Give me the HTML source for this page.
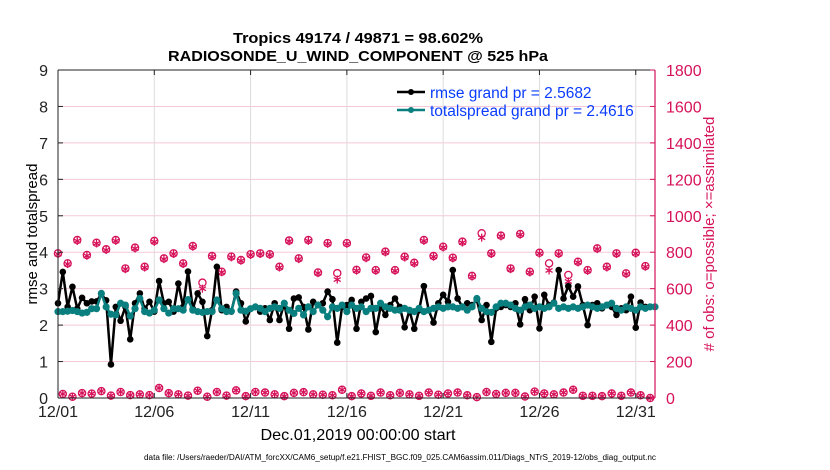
<!DOCTYPE html>
<html><head><meta charset="utf-8"><style>
html,body{margin:0;padding:0;background:#fff;}
svg{display:block;font-family:"Liberation Sans",Arial,sans-serif;}
</style></head><body>
<svg id="chart" width="830" height="470" viewBox="0 0 830 470" xmlns="http://www.w3.org/2000/svg">
<rect width="830" height="470" fill="#fff"/>
<text x="358" y="43" font-size="15" font-weight="bold" text-anchor="middle" textLength="250" lengthAdjust="spacingAndGlyphs">Tropics 49174 / 49871 = 98.602%</text>
<text x="358" y="61" font-size="15" font-weight="bold" text-anchor="middle" textLength="380" lengthAdjust="spacingAndGlyphs">RADIOSONDE_U_WIND_COMPONENT @ 525 hPa</text>
<g id="grid"></g>
<g id="obs"></g>
<g id="series"></g>
<g id="axes"></g>
<text transform="translate(37,234) rotate(-90)" font-size="15" text-anchor="middle">rmse and totalspread</text>
<text transform="translate(714,234) rotate(-90)" font-size="15" text-anchor="middle" fill="#d6125a"># of obs: o=possible; ×=assimilated</text>
<text x="358" y="440" font-size="16" text-anchor="middle" textLength="195" lengthAdjust="spacingAndGlyphs">Dec.01,2019 00:00:00 start</text>
<text x="400" y="460" font-size="8" text-anchor="middle" textLength="512" lengthAdjust="spacingAndGlyphs">data file: /Users/raeder/DAI/ATM_forcXX/CAM6_setup/f.e21.FHIST_BGC.f09_025.CAM6assim.011/Diags_NTrS_2019-12/obs_diag_output.nc</text>
<g>
<line x1="397" y1="92" x2="425" y2="92" stroke="#000" stroke-width="2.5"/>
<circle cx="411" cy="92" r="3" fill="#000"/>
<text x="430" y="98" font-size="15.5" fill="#0a3cff">rmse grand pr = 2.5682</text>
<line x1="397" y1="110" x2="425" y2="110" stroke="#0a7f7f" stroke-width="2.5"/>
<circle cx="411" cy="110" r="3" fill="#0a7f7f"/>
<text x="430" y="116" font-size="15.5" fill="#0a3cff">totalspread grand pr = 2.4616</text>
</g>
</svg>
<script>
const xTickLabels = ["12/01","12/06","12/11","12/16","12/21","12/26","12/31"];
const xTickDays = [0,5,10,15,20,25,30];
const yTicks = [0,1,2,3,4,5,6,7,8,9];
const rTicks = [0,200,400,600,800,1000,1200,1400,1600,1800];
const rmse = [2.6,3.46,2.5,3.05,2.45,2.75,2.6,2.65,2.65,2.85,2.68,0.92,2.5,2.12,2.5,1.61,2.6,2.87,2.45,2.64,2.37,3.21,2.6,2.64,2.37,3.14,2.5,3.47,2.45,2.87,2.64,1.7,2.41,3.6,2.41,2.5,2.37,2.92,2.6,2.1,2.45,
2.5,2.37,2.46,2.14,2.6,2.14,2.6,1.9,2.73,2.76,2.5,1.88,2.64,2.55,2.6,2.92,2.71,1.52,2.5,2.55,2.69,1.9,2.64,2.73,2.8,1.81,2.5,2.28,2.55,2.73,2.5,1.94,2.41,1.9,2.41,3.07,2.41,2.07,2.6,2.83,2.64,
3.51,2.73,2.5,2.6,2.55,2.69,2.14,2.55,1.54,2.46,2.5,2.55,2.5,2.6,2.02,2.71,2.41,2.78,1.91,2.83,2.55,2.62,3.51,2.73,3.07,2.78,3.06,2.55,2.0,2.55,2.6,2.46,2.55,2.5,2.28,2.46,2.41,2.78,1.93,2.62,2.5];
const spread = [2.37,2.37,2.38,2.40,2.37,2.33,2.35,2.45,2.45,2.87,2.50,2.30,2.28,2.60,2.55,2.25,2.45,2.73,2.37,2.33,2.41,2.69,2.45,2.33,2.45,2.45,2.41,2.70,2.41,2.37,2.35,2.37,2.37,2.69,2.45,2.37,2.38,2.87,2.41,2.38,2.45,
2.5,2.46,2.37,2.46,2.5,2.46,2.6,2.41,2.32,2.46,2.28,2.5,2.37,2.55,2.41,2.23,2.5,2.46,2.55,2.37,2.55,2.46,2.5,2.37,2.46,2.46,2.6,2.5,2.46,2.41,2.41,2.46,2.41,2.37,2.46,2.37,2.41,2.46,2.5,2.46,2.5,
2.5,2.46,2.5,2.41,2.5,2.73,2.46,2.37,2.35,2.5,2.6,2.6,2.55,2.46,2.41,2.5,2.55,2.46,2.5,2.46,2.5,2.6,2.46,2.5,2.46,2.5,2.46,2.5,2.55,2.5,2.46,2.5,2.55,2.6,2.46,2.41,2.5,2.46,2.41,2.5,2.46,2.5,2.5];
const possibleHigh = [794,739,867,785,852,816,867,711,825,720,862,766,794,739,834,633,779,693,776,757,789,794,789,720,864,766,867,689,850,685,850,703,
771,702,803,702,775,742,867,779,830,770,858,670,904,794,891,711,900,693,797,739,794,675,748,702,821,720,794,684,797,724];
const assimHigh = [790,735,862,780,848,812,862,707,820,716,857,762,790,735,830,600,775,690,772,753,785,790,785,716,860,762,862,685,846,650,846,699,
767,698,799,698,771,738,862,775,826,766,853,666,880,790,887,707,896,689,793,700,790,640,744,698,817,716,790,680,793,720];
const possibleLow = [22,7,27,24,38,13,33,16,20,16,55,27,20,13,40,7,33,13,42,10,33,30,20,10,28,32,20,18,15,45,10,25,
12,30,15,28,20,12,30,18,25,30,15,5,33,22,28,28,8,35,25,20,30,45,12,12,10,25,12,30,15,0];
const assimLow = possibleLow.slice();

const NS="http://www.w3.org/2000/svg";
const X0=58,X1=655,Y0=398,Y1=70;
const xs=d=>X0+(d/31)*(X1-X0);
const ys=v=>Y0-(v/9)*(Y0-Y1);
const yr=v=>Y0-(v/1800)*(Y0-Y1);
function mk(tag,attrs,parent){const e=document.createElementNS(NS,tag);for(const k in attrs)e.setAttribute(k,attrs[k]);parent.appendChild(e);return e;}
const grid=document.getElementById('grid'),axes=document.getElementById('axes'),series=document.getElementById('series'),obs=document.getElementById('obs');

rTicks.forEach(v=>{if(v===0||v===1800)return;const l=mk('line',{x1:X0,x2:X1,y1:yr(v),y2:yr(v),stroke:'#f5c8d8','stroke-width':1},grid);

});
xTickDays.forEach(d=>{if(d===0)return;const l=mk('line',{x1:xs(d),x2:xs(d),y1:Y1,y2:Y0,stroke:'#dcdcdc','stroke-width':1},grid);

});

// axes frame
let a=mk('line',{x1:X0,x2:X1,y1:Y1,y2:Y1,stroke:'#222','stroke-width':1},axes);


a=mk('line',{x1:X0,x2:X1,y1:Y0,y2:Y0,stroke:'#222','stroke-width':1},axes);


a=mk('line',{x1:X0,x2:X0,y1:Y1,y2:Y0,stroke:'#222','stroke-width':1},axes);


a=mk('line',{x1:X1,x2:X1,y1:Y1,y2:Y0,stroke:'#d6125a','stroke-width':1.2},axes);



xTickDays.forEach((d,i)=>{
 let t=mk('line',{x1:xs(d),x2:xs(d),y1:Y0,y2:Y0-5,stroke:'#222'},axes);
 
 
 t=mk('line',{x1:xs(d),x2:xs(d),y1:Y1,y2:Y1+5,stroke:'#222'},axes);
 
 
 const tx=mk('text',{x:xs(d),y:417,'font-size':16,'text-anchor':'middle',fill:'#222'},axes);
 tx.textContent=xTickLabels[i];
 
 
});
yTicks.forEach(v=>{
 const t=mk('line',{x1:X0,x2:X0+5,y1:ys(v),y2:ys(v),stroke:'#222'},axes);
 
 
 const tx=mk('text',{x:48,y:ys(v)+6,'font-size':16,'text-anchor':'end',fill:'#222'},axes);
 tx.textContent=v;
 
 
});
rTicks.forEach(v=>{
 const t=mk('line',{x1:X1,x2:X1-5,y1:yr(v),y2:yr(v),stroke:'#d6125a'},axes);
 
 
 const tx=mk('text',{x:666,y:yr(v)+6,'font-size':16,fill:'#d6125a'},axes);
 tx.textContent=v;
 
 
});

// obs markers
const RED='#d6125a';
function star(cx,cy,name){
 const g=mk('g',{stroke:RED,'stroke-width':1.3},obs);
 
 
 [[0,1],[0.87,0.5],[0.87,-0.5]].forEach(([dx,dy])=>mk('line',{x1:cx-dx*4,y1:cy-dy*4,x2:cx+dx*4,y2:cy+dy*4},g));
}
function ring(cx,cy,name){
 const c=mk('circle',{cx:cx,cy:cy,r:3.6,fill:'none',stroke:RED,'stroke-width':1.3},obs);
 
 
}
possibleHigh.forEach((v,i)=>{const d=i*0.5;ring(xs(d),yr(v),'possible-obs-marker');star(xs(d),yr(assimHigh[i]),'assimilated-obs-marker');});
possibleLow.forEach((v,i)=>{const d=i*0.5+0.25;ring(xs(d),yr(v),'possible-obs-marker');star(xs(d),yr(assimLow[i]),'assimilated-obs-marker');});

function drawLine(vals,color,name,r){
 const pts=vals.map((v,i)=>xs(i*0.25).toFixed(2)+','+ys(v).toFixed(2)).join(' ');
 const pl=mk('polyline',{points:pts,fill:'none',stroke:color,'stroke-width':2.5,'stroke-linejoin':'round'},series);
 
 
 vals.forEach((v,i)=>{const c=mk('circle',{cx:xs(i*0.25),cy:ys(v),r:r,fill:color},series);
  
  });
}
drawLine(rmse,'#000','rmse',3.3);
drawLine(spread,'#0a7f7f','totalspread',3.6);
</script>
</body></html>
